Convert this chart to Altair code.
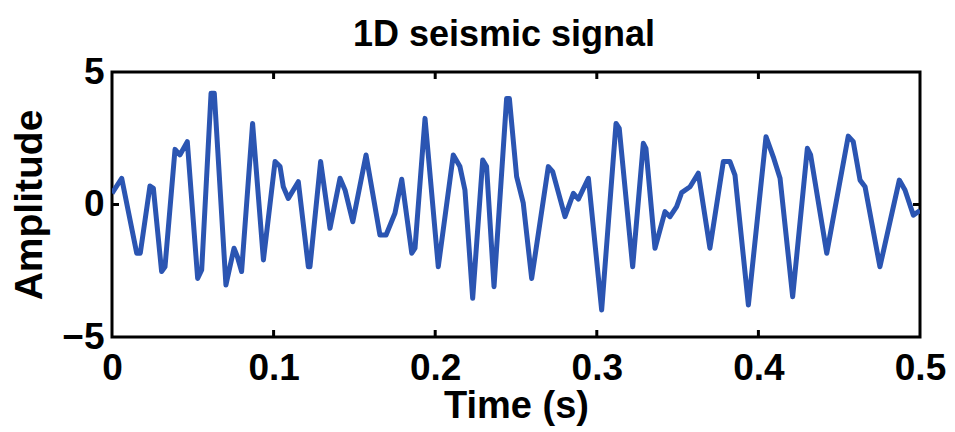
import altair as alt
import pandas as pd

# Signal samples (time in s, amplitude)
time_s = [0, 0.006, 0.0153, 0.0175, 0.0235, 0.0256, 0.0307, 0.0328, 0.039, 0.042,
          0.0466, 0.053, 0.0555, 0.0613, 0.0633, 0.0705, 0.0755, 0.0776, 0.0802, 0.087,
          0.0937, 0.1009, 0.104, 0.106, 0.1091, 0.1153, 0.1215, 0.1225, 0.1291, 0.1349,
          0.1411, 0.1442, 0.149, 0.1572, 0.1658, 0.1696, 0.1751, 0.1793, 0.1855, 0.1875,
          0.1937, 0.2019, 0.2112, 0.2153, 0.2184, 0.2232, 0.2294, 0.2318, 0.2364, 0.2442,
          0.2459, 0.2504, 0.2545, 0.2597, 0.27, 0.2727, 0.2803, 0.2855, 0.2886, 0.2948,
          0.303, 0.3119, 0.3139, 0.3222, 0.3288, 0.3304, 0.336, 0.3422, 0.3453, 0.3494,
          0.3525, 0.3577, 0.3628, 0.37, 0.3783, 0.3824, 0.3855, 0.3938, 0.4047, 0.4092,
          0.4134, 0.4212, 0.4303, 0.4323, 0.4423, 0.4556, 0.4587, 0.4629, 0.466, 0.4752,
          0.4872, 0.4907, 0.4959, 0.5]
amplitude = [0.42, 0.99, -1.84, -1.84, 0.70, 0.61, -2.53, -2.35, 2.08, 1.87,
             2.37, -2.79, -2.47, 4.2, 4.2, -3.04, -1.65, -1.97, -2.53, 3.06,
             -2.09, 1.62, 1.43, 0.67, 0.23, 0.86, -2.35, -2.35, 1.62, -0.90,
             0.99, 0.55, -0.65, 1.87, -1.15, -1.15, -0.33, 0.95, -1.84, -1.65,
             3.25, -2.35, 1.87, 1.43, 0.55, -3.54, 1.68, 1.43, -3.10, 4.0,
             4.0, 1.05, 0.05, -2.79, 1.43, 1.24, -0.46, 0.42, 0.20, 0.99,
             -3.98, 3.06, 2.87, -2.35, 2.31, 2.12, -1.65, -0.27, -0.46, -0.08,
             0.45, 0.67, 1.18, -1.65, 1.62, 1.62, 1.11, -3.79, 2.56, 1.80,
             0.99, -3.48, 2.12, 1.87, -1.84, 2.58, 2.37, 0.92, 0.67, -2.35,
             0.92, 0.55, -0.40, -0.23]

x_ticks = [0, 0.1, 0.2, 0.3, 0.4, 0.5]
y_ticks = [-5, 0, 5]
inner_x_ticks = [0.1, 0.2, 0.3, 0.4]
inner_y_ticks = [0]

W, H = 808, 265
FONT = "Liberation Sans"
BLUE = "#2b55b2"

df = pd.DataFrame({"t": time_s, "a": amplitude})
xt = pd.DataFrame({"t": inner_x_ticks})
yt = pd.DataFrame({"a": inner_y_ticks})

xscale = alt.Scale(domain=[0, 0.5], nice=False, zero=False)
yscale = alt.Scale(domain=[-5, 5], nice=False, zero=False)

line = alt.Chart(df).mark_line(color=BLUE, strokeWidth=5, strokeJoin="round", clip=True).encode(
    x=alt.X("t:Q", scale=xscale, title="Time (s)",
            axis=alt.Axis(values=x_ticks, format="~g", labelPadding=13, titlePadding=1,
                          titleFontSize=38)),
    y=alt.Y("a:Q", scale=yscale, title="Amplitude",
            axis=alt.Axis(values=y_ticks, format="d", labelPadding=8, titlePadding=12)),
)

tick_top = alt.Chart(xt).mark_rule(color="black", strokeWidth=3).encode(
    x=alt.X("t:Q", scale=xscale), y=alt.value(0), y2=alt.value(7))
tick_bot = alt.Chart(xt).mark_rule(color="black", strokeWidth=3).encode(
    x=alt.X("t:Q", scale=xscale), y=alt.value(H - 7), y2=alt.value(H))
tick_left = alt.Chart(yt).mark_rule(color="black", strokeWidth=3).encode(
    y=alt.Y("a:Q", scale=yscale), x=alt.value(0), x2=alt.value(7))
tick_right = alt.Chart(yt).mark_rule(color="black", strokeWidth=3).encode(
    y=alt.Y("a:Q", scale=yscale), x=alt.value(W - 7), x2=alt.value(W))

chart = alt.layer(line, tick_top, tick_bot, tick_left, tick_right).properties(
    width=W, height=H,
    background="white",
    title=alt.TitleParams("1D seismic signal", font=FONT, fontSize=36, fontWeight="bold",
                          color="black", anchor="middle", offset=-1, dx=-12),
    autosize=alt.AutoSizeParams(type="none"),
    padding={"left": 104, "top": 64, "right": 27, "bottom": 90},
).configure_view(
    stroke="black", strokeWidth=3
).configure_axis(
    grid=False, domain=False, ticks=False,
    labelFont=FONT, labelFontSize=37, labelFontWeight="bold", labelColor="black",
    titleFont=FONT, titleFontSize=39, titleFontWeight="bold", titleColor="black",
    labelFlush=False, labelOverlap=False,
)

chart.save("out.html", embed_options={"renderer": "svg", "actions": False})
